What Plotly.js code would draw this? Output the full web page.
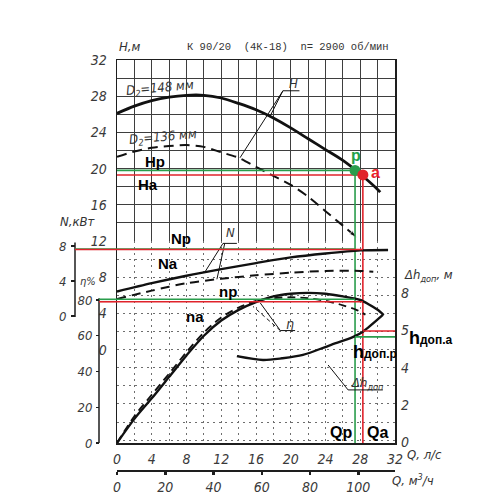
<!DOCTYPE html>
<html><head><meta charset="utf-8">
<script src="https://cdn.plot.ly/plotly-3.0.1.min.js"></script>
<style>html,body{margin:0;padding:0;background:#fff}#chart{width:500px;height:500px}</style>
</head><body><div id="chart"></div>
<script>
// ---------------- data ----------------
const qTicks = [0,4,8,12,16,20,24,28,32];
const qTickText = ['0','4','8','12','16','20','24','28','32'];
const qm3Ticks = [0,20,40,60,80,100];
const qm3TickText = ['0','20','40','60','80','100'];
const hTicksTop = [12,16,20,24,28,32];
const hTicksTopText = ['12','16','20','24','28','32'];
const hTicksBottom = [0,4,8];
const hTicksBottomText = ['0','4','8'];
const nTicks = [0,4,8];
const nTickText = ['0','4','8'];
const etaTicks = [0,20,40,60,80];
const etaTickText = ['0','20','40','60','80'];
const dhTicks = [0,2,4,6,8];
const dhTickText = ['0','2','4','5','8'];

// head, D2 = 148 mm (solid) and D2 = 136 mm (dashed)
const qH148 = [0,2,4,6,8,10,12,14,16,18,20,22,24,26,28,30,30.3];
const h148  = [26.1,26.9,27.5,27.9,28.1,28.1,27.8,27.2,26.5,25.6,24.5,23.3,22.1,20.9,19.4,17.7,17.4];
const qH136 = [0,2,4,6,8,10,12,14,16,18,20,22,24,26,27.6];
const h136  = [21.3,21.9,22.3,22.5,22.6,22.4,21.8,21.2,20.2,19.2,18.2,16.9,15.3,13.7,12.4];
// power, kW
const qN148 = [0,4,8,12,16,20,24,28,31.2];
const n148  = [2.8,3.75,4.6,5.35,6.05,6.7,7.15,7.5,7.55];
const qN136 = [0,4,8,12,16,20,24,28,29.5];
const n136  = [1.95,2.9,3.75,4.25,4.65,4.95,5.15,5.15,5.05];
// efficiency, %
const qEta148 = [0,2,4,6,8,10,12,14,16,18,20,22,24,26,28,29,30,30.7];
const eta148  = [0,13.5,25,37,49,60,68.5,74.5,78.8,82,83.5,84,83.5,82,80,77.5,74.5,71.6];
const qEta136 = [0,2,4,6,8,10,12,14,16,18,20,22,24,26,27.6,28.6];
const eta136  = [0,15,27,38.8,50.8,61.8,70.2,75.8,79.5,81,81.5,81,79.5,77,74.4,71.8];
// permissible cavitation reserve, m
const qDh = [13.8,16.8,19,21.4,24.5,27.2,28.3,30.6];
const dh  = [4.62,4.41,4.5,4.68,5.2,5.65,5.93,6.83];

// operating points p (green) and a (red)
const opNames = ['p','a'];
const opColors = ['#2a9d4c','#e0232b'];
const qOp   = [27.4, 28.3];
const hOp   = [19.8, 19.3];
const nOp   = [7.65, 7.6];
const etaOp = [80.4, 79.0];
const dhOp  = [5.65, 5.97];

// leader lines (label -> curve), in axis units
const leadHq = [21.0,19.1,17.6,null,19.1,14.16];
const leadHv = [28.6,28.6,25.75,null,28.6,21.2];
const leadNq = [13.8,12.2,10.1,null,12.4,11.5];
const leadNv = [8.3,8.3,5.0,null,8.3,4.2];
const leadEtaSolidQ = [20.5,18.8,16.5];
const leadEtaSolidV = [62.9,62.9,78.3];
const leadEtaDashQ = [18.8,15.65];
const leadEtaDashV = [62.9,76.4];
const leadDhQ = [24.3,26.6,30.6];
const leadDhV = [4.14,2.8,2.8];

const Q_TO_M3H = 3.6;

// ---------------- frame geometry (pixels of the 500x500 page) ----------------
const FX0=117, FX1=395, FY0=443, FY1=60;
const H_PX=9.05;                       // px per metre of head
const HMIN = 32-(FY0-FY1)/H_PX;
const FYMID = FY1+(32-12)*H_PX;        // H = 12 line
const ETA_PX=1.7875;                   // px per percent, 0 at FY0
const N_ZERO=316, N_PX=8.75;
const DH_ZERO=442, DH_PX=18.6;
const N_AXIS_X=75, ETA_AXIS_X=99, QM3_AXIS_Y=470;

const px = v => v/500, py = v => (500-v)/500;
const FONT = 'Liberation Sans Narrow, DejaVu Sans Condensed, Liberation Sans, sans-serif';
const INK='#1e1e1e', GRID_SOLID='#3e3e3e', GRID_DOT='#6e6e6e';
const tickFont = {family:FONT, size:14, color:'#3a3a3a', style:'italic'};
const XDOM=[px(FX0),px(FX1)];

function curve(x,y,xa,ya,opt){
  opt=opt||{};
  const t = {type:'scatter',mode:opt.mode||'lines',x:x,y:y,xaxis:xa,yaxis:ya,hoverinfo:'skip',
    line:{color:opt.color||'#111',width:opt.width||2.2,dash:opt.dash||'solid',shape:opt.shape||'spline',smoothing:0.8}};
  if(opt.marker) t.marker=opt.marker;
  return t;
}

const traces=[];
// bottom subplot
traces.push(curve(qN148,n148,'x2','y3',{width:2.4}));
traces.push(curve(qN136,n136,'x2','y3',{width:2,dash:'9px,6px'}));
traces.push(curve(qEta136,eta136,'x2','y4',{width:1.9,dash:'8px,5px'}));
traces.push(curve(qEta148,eta148,'x2','y4',{width:2.4}));
traces.push(curve(qDh,dh,'x2','y5',{width:2.4}));
traces.push(curve(leadNq,leadNv,'x2','y3',{width:1,shape:'linear'}));
traces.push(curve(leadEtaSolidQ,leadEtaSolidV,'x2','y4',{width:1,shape:'linear'}));
traces.push(curve(leadEtaDashQ,leadEtaDashV,'x2','y4',{width:1,shape:'linear',dash:'4px,3px'}));
traces.push(curve(leadDhQ,leadDhV,'x2','y5',{width:1,shape:'linear'}));
// top subplot
traces.push(curve(qH148,h148,'x','y',{width:2.8}));
traces.push(curve(qH136,h136,'x','y',{width:2,dash:'10px,6px',mode:'lines+markers',
  marker:{symbol:'arrow',angleref:'previous',color:'#111',size:qH136.map((v,i)=>i===qH136.length-1?8:0)}}));
traces.push(curve(leadHq,leadHv,'x','y',{width:1,shape:'linear'}));
// operating-point guides (green first, red on top)
for(let i=0;i<2;i++){
  const c=opColors[i];
  traces.push(curve([0,qOp[i]],[hOp[i],hOp[i]],'x','y',{color:c,width:1.6,shape:'linear'}));
  traces.push(curve([qOp[i],qOp[i]],[hOp[i],12],'x','y',{color:c,width:1.6,shape:'linear'}));
  traces.push(curve([qOp[i],qOp[i]],[12,HMIN],'x2','y2',{color:c,width:1.6,shape:'linear'}));
  traces.push(curve([0,qOp[i]],[nOp[i],nOp[i]],'x2','y3',{color:c,width:1.6,shape:'linear'}));
  traces.push(curve([0,qOp[i]],[etaOp[i],etaOp[i]],'x2','y4',{color:c,width:1.6,shape:'linear'}));
  traces.push(curve([qOp[i],32],[dhOp[i],dhOp[i]],'x2','y5',{color:c,width:1.6,shape:'linear'}));
}
traces.push({type:'scatter',mode:'markers',x:qOp,y:hOp,xaxis:'x',yaxis:'y',hoverinfo:'skip',cliponaxis:false,
  marker:{color:opColors,size:11,line:{width:0}}});
traces.push({type:'scatter',mode:'markers',x:[],y:[],xaxis:'x3',yaxis:'y2',hoverinfo:'skip',marker:{size:1}});

const shapes=[
  {type:'line',xref:'paper',yref:'y3',x0:px(N_AXIS_X),x1:px(N_AXIS_X),y0:-0.1,y1:8.4,line:{color:INK,width:1.5}},
  {type:'line',xref:'paper',yref:'y4',x0:px(ETA_AXIS_X),x1:px(ETA_AXIS_X),y0:0,y1:81,line:{color:INK,width:1.5}}
];
for(let i=0;i<2;i++){
  shapes.push({type:'line',xref:'paper',yref:'y3',x0:px(N_AXIS_X),x1:px(FX0),y0:nOp[i],y1:nOp[i],line:{color:opColors[i],width:1.6}});
  shapes.push({type:'line',xref:'paper',yref:'y4',x0:px(ETA_AXIS_X),x1:px(FX0),y0:etaOp[i],y1:etaOp[i],line:{color:opColors[i],width:1.6}});
}

const italic = (size)=>({family:FONT,size:size,color:'#333',style:'italic'});
const bold = (size,color)=>({family:'Liberation Sans, Arial, sans-serif',size:size,color:color||'#000'});
function txt(x,y,text,font,extra){return Object.assign({xref:'paper',yref:'paper',x:px(x),y:py(y),text:text,showarrow:false,xanchor:'center',yanchor:'middle',font:font},extra||{});}
const annotations=[
  txt(288,47,'К 90/20  (4К-18)  n= 2900 об/мин',{family:'Liberation Mono, DejaVu Sans Mono, monospace',size:10.5,color:'#333'}),
  txt(117,47,'H,м',italic(13),{xanchor:'left'}),
  txt(160,88,'D<sub>2</sub>=148 мм',italic(13),{textangle:-5}),
  txt(163,137,'D<sub>2</sub>=136 мм',italic(13),{textangle:-5}),
  txt(293,83,'H',italic(13)),
  txt(230,233,'N',italic(13)),
  txt(290,324,'η',italic(14)),
  txt(367,383,'Δh<sub>доп</sub>',italic(13)),
  txt(78,222,'N,кВт',italic(13)),
  txt(88,281,'η%',italic(11)),
  txt(402,275,'Δh<sub>доп</sub>, м',italic(13),{xanchor:'left'}),
  txt(405,454,'Q, л/с',italic(13),{xanchor:'left'}),
  txt(390,480,'Q, м<sup>3</sup>/ч',italic(13),{xanchor:'left'}),
  txt(155,162,'<b>Hp</b>',bold(15)),
  txt(148,184,'<b>Ha</b>',bold(15)),
  txt(356,155,'<b>p</b>',bold(16,'#23a04a')),
  txt(375,172,'<b>a</b>',bold(16,'#e8212b')),
  txt(181,238,'<b>Np</b>',bold(15)),
  txt(168,263,'<b>Na</b>',bold(15)),
  txt(228,291,'<b>np</b>',bold(15)),
  txt(195,316,'<b>na</b>',bold(15)),
  txt(431,338,"<b>h<span style='font-size:12px'>доп.a</span></b>",bold(18)),
  txt(375,352,"<b>h<span style='font-size:12px'>доп.p</span></b>",bold(18)),
  txt(341,432,'<b>Qp</b>',bold(16)),
  txt(377,432,'<b>Qa</b>',bold(16))
];

const layout={
  width:500,height:500,margin:{l:0,r:0,t:0,b:0},autosize:false,
  paper_bgcolor:'#ffffff',plot_bgcolor:'rgba(0,0,0,0)',showlegend:false,hovermode:false,
  xaxis:{domain:XDOM,range:[0,32],anchor:'y',side:'top',tickmode:'linear',tick0:0,dtick:2,
    showticklabels:false,ticks:'',showgrid:true,gridcolor:GRID_SOLID,gridwidth:1,zeroline:false,
    showline:true,linecolor:INK,linewidth:1.5,fixedrange:true},
  yaxis:{domain:[py(FYMID),py(FY1)],range:[12,32],anchor:'x',tickmode:'array',tickvals:hTicksTop,ticktext:hTicksTopText,
    tickfont:tickFont,ticks:'',ticklabelstandoff:6,showgrid:true,gridcolor:GRID_SOLID,gridwidth:1,
    minor:{tickmode:'linear',tick0:0,dtick:2,showgrid:true,gridcolor:GRID_SOLID,gridwidth:1,ticks:''},
    zeroline:false,showline:true,linecolor:INK,linewidth:1.5,mirror:true,fixedrange:true},
  xaxis2:{domain:XDOM,range:[0,32],anchor:'y2',tickmode:'array',tickvals:qTicks,ticktext:qTickText,
    tickfont:tickFont,ticks:'',ticklabelstandoff:3,showgrid:true,gridcolor:GRID_DOT,gridwidth:1,griddash:'2px,4px',
    minor:{tickmode:'linear',tick0:0,dtick:2,showgrid:true,gridcolor:GRID_DOT,gridwidth:1,griddash:'2px,4px',ticks:''},
    zeroline:false,showline:true,linecolor:INK,linewidth:1.5,fixedrange:true},
  yaxis2:{domain:[py(FY0),py(FYMID)],range:[HMIN,12],anchor:'x2',tickmode:'array',tickvals:hTicksBottom,ticktext:hTicksBottomText,
    tickfont:tickFont,ticks:'',ticklabelstandoff:6,showgrid:true,gridcolor:GRID_DOT,gridwidth:1,griddash:'2px,4px',
    minor:{tickmode:'linear',tick0:0,dtick:2,showgrid:true,gridcolor:GRID_DOT,gridwidth:1,griddash:'2px,4px',ticks:''},
    zeroline:false,showline:true,linecolor:INK,linewidth:1.5,mirror:true,fixedrange:true},
  yaxis3:{overlaying:'y2',anchor:'free',position:px(N_AXIS_X),side:'left',
    range:[-(FY0-N_ZERO)/N_PX,(N_ZERO-FYMID)/N_PX],tickmode:'array',tickvals:nTicks,ticktext:nTickText,
    tickfont:Object.assign({},tickFont,{size:13}),ticks:'outside',ticklen:4,tickcolor:INK,tickwidth:1.2,ticklabelstandoff:2,
    showgrid:false,zeroline:false,showline:false,fixedrange:true},
  yaxis4:{overlaying:'y2',anchor:'free',position:px(ETA_AXIS_X),side:'left',
    range:[0,(FY0-FYMID)/ETA_PX],tickmode:'array',tickvals:etaTicks,ticktext:etaTickText,
    tickfont:Object.assign({},tickFont,{size:13}),ticks:'outside',ticklen:3,tickcolor:INK,tickwidth:1.2,ticklabelstandoff:1,
    showgrid:false,zeroline:false,showline:false,fixedrange:true},
  yaxis5:{overlaying:'y2',anchor:'x2',side:'right',
    range:[-(FY0-DH_ZERO)/DH_PX,(DH_ZERO-FYMID)/DH_PX],tickmode:'array',tickvals:dhTicks,ticktext:dhTickText,
    tickfont:tickFont,ticks:'',ticklabelstandoff:5,showgrid:false,zeroline:false,showline:false,fixedrange:true},
  xaxis3:{overlaying:'x2',anchor:'free',position:py(QM3_AXIS_Y),side:'bottom',range:[0,32*Q_TO_M3H],
    tickmode:'array',tickvals:qm3Ticks,ticktext:qm3TickText,tickfont:tickFont,ticks:'outside',ticklen:3,tickwidth:2.5,
    tickcolor:INK,ticklabelstandoff:1,showgrid:false,zeroline:false,showline:true,linecolor:INK,linewidth:1.5,fixedrange:true},
  shapes:shapes,
  annotations:annotations
};
Plotly.newPlot('chart',traces,layout,{displayModeBar:false,staticPlot:true});
</script></body></html>
